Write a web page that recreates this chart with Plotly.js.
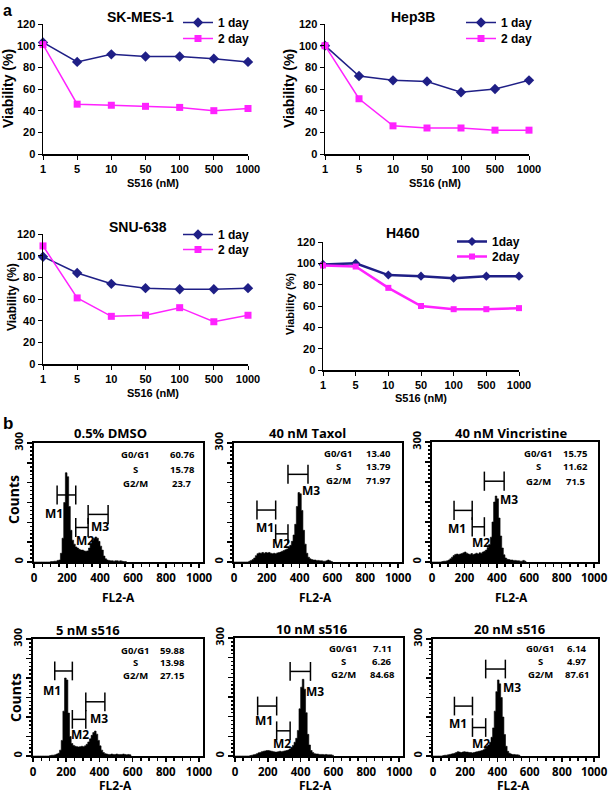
<!DOCTYPE html>
<html><head><meta charset="utf-8">
<script src="https://cdn.plot.ly/plotly-3.0.1.min.js"></script>
<style>html,body{margin:0;padding:0;background:#fff}#chart{width:609px;height:793px}</style>
</head><body><div id="chart"></div>
<script>
// ---------- data: panel a (viability, %) ----------
const doseLabels = ['1','5','10','50','100','500','1000'];
const skmes1Day = [103, 85, 92, 90, 90, 88, 85];
const skmes2Day = [101, 46, 45, 44, 43, 40, 42];
const hep3b1Day = [100, 72, 68, 67, 57, 60, 68];
const hep3b2Day = [100, 51, 26, 24, 24, 22, 22];
const snu1Day   = [99, 84, 74, 70, 69, 69, 70];
const snu2Day   = [109, 61, 44, 45, 52, 39, 45];
const h4601Day  = [99, 100, 89, 88, 86, 88, 88];
const h4602Day  = [98, 97, 77, 60, 57, 57, 58];

// ---------- data: panel b (FL2-A histograms, counts per 10-channel bin from 0) ----------
const dmsoCounts = [0,0,0,0,0,0,0,0,0,0, 1,1,2,2,4,5,22,60,150,225, 215,140,80,55,45,38,35,32,30,30, 28,27,28,35,45,55,60,63,60,52, 40,30,15,8,5,4,3,3,2,3, 3,2,3,2,1,1,0];
const taxolCounts = [0,0,0,0,0,0,0,0,0,2, 4,6,10,16,21,23,22,24,22,24, 23,24,22,21,22,21,23,24,25,27, 29,31,33,36,42,52,68,95,140,175, 172,130,80,45,22,12,8,6,5,5, 4,4,3,3,2,2,3,5,3,1, 0];
const vincCounts = [0,0,0,0,0,0,1,2,2,3, 5,8,12,16,19,20,19,20,21,23, 25,22,20,19,21,19,20,22,20,23, 22,25,27,30,36,44,62,100,150,165, 158,110,65,35,18,10,7,6,5,5, 4,4,3,3,2,2,4,2,0];
const s516n5Counts = [0,0,0,0,0,0,0,0,0,0, 1,2,2,3,5,7,15,40,115,200, 195,110,50,32,27,25,24,23,24,25, 24,26,30,36,44,53,60,64,56,40, 26,15,9,6,5,4,4,5,4,4, 5,4,4,4,5,4,3,4,3,0];
const s516n10Counts = [0,0,0,0,0,0,0,0,0,1, 2,3,4,6,8,9,11,12,13,14, 14,13,12,11,10,10,11,12,11,12, 13,14,15,18,22,27,35,45,65,120, 175,195,170,110,55,28,14,9,6,5, 5,4,4,4,3,4,3,3,3,2, 0];
const s516n20Counts = [0,0,0,0,0,0,1,2,2,3, 4,5,6,7,9,11,10,9,10,11, 10,10,9,9,8,9,10,11,12,13, 14,16,19,23,28,35,48,72,115,165, 195,185,150,100,55,25,12,7,5,4, 4,3,3,2,0];

// gates M1, M2, M3: [start channel, end channel, counts level]
const dmsoGates  = [[140,253,169],[253,328,87],[328,449,120]];
const taxolGates = [[140,254,131],[254,329,71],[329,451,221]];
const vincGates  = [[136,248,129],[248,323,88],[323,445,202]];
const s5Gates    = [[131,237,218],[237,318,94],[318,433,139]];
const s10Gates   = [[138,254,127],[254,336,64],[336,460,215]];
const s20Gates   = [[133,245,128],[245,327,73],[327,449,223]];

const phaseLabels = ['G0/G1','S','G2/M'];
const dmsoStats  = ['60.76','15.78','23.7'];
const taxolStats = ['13.40','13.79','71.97'];
const vincStats  = ['15.75','11.62','71.5'];
const s5Stats    = ['59.88','13.98','27.15'];
const s10Stats   = ['7.11','6.26','84.68'];
const s20Stats   = ['6.14','4.97','87.61'];

// ---------- layout helpers ----------
const W = 609, H = 793;
const px = x => x / W, py = y => 1 - y / H;
const AF = 'Arial, "Liberation Sans", sans-serif';
const HF = '"Open Sans", "Noto Sans", sans-serif';
const NAVY = '#1f1f86', MAG = '#ff22ff';

const traces = [];
const layout = {
  width: W, height: H, margin: {l:0, r:0, t:0, b:0},
  paper_bgcolor: '#fff', plot_bgcolor: 'rgba(0,0,0,0)',
  showlegend: true, annotations: [], shapes: []
};
function ann(text, x, y, size, opts) {
  layout.annotations.push(Object.assign({
    text: text, x: px(x), y: py(y), xref: 'paper', yref: 'paper',
    showarrow: false, xanchor: 'center', yanchor: 'middle',
    font: {family: AF, size: size, color: '#000', weight: 'bold'}
  }, opts || {}));
}

// ---------- panel a ----------
const linePanels = [
  {title:'SK-MES-1', d1:skmes1Day, d2:skmes2Day, n:['1 day','2 day'], xd:[43,248], yd:[24,154],
   tpos:[140,17], xt:[153,183], yt:[8,89], ytSize:14, leg:[178,8,24], lw:1.5, ms:[8,7]},
  {title:'Hep3B', d1:hep3b1Day, d2:hep3b2Day, n:['1 day','2 day'], xd:[325,529], yd:[24,154],
   tpos:[413,17], xt:[435,183], yt:[289,89], ytSize:14, leg:[461,8,24], lw:1.5, ms:[8,7]},
  {title:'SNU-638', d1:snu1Day, d2:snu2Day, n:['1 day','2 day'], xd:[43,248], yd:[234,364],
   tpos:[138,227], xt:[153,393], yt:[12,297], ytSize:12, leg:[178,220,235], lw:1.5, ms:[8,7]},
  {title:'H460', d1:h4601Day, d2:h4602Day, n:['1day','2day'], xd:[323,519], yd:[242,370],
   tpos:[403,233], xt:[421,398], yt:[290,304], ytSize:11, leg:[452,227,242], lw:2.5, ms:[7,6]}
];

linePanels.forEach((p, i) => {
  const k = i + 1, xs = k === 1 ? '' : k;
  const l1 = i === 0 ? 'legend' : 'legend' + (2 * i + 1), l2 = 'legend' + (2 * i + 2);
  layout['xaxis' + xs] = {
    domain: [px(p.xd[0]), px(p.xd[1])], anchor: 'y' + xs, type: 'category', range: [0, 6],
    showline: true, linecolor: '#000', linewidth: 1.5, ticks: 'outside', ticklen: 4, tickcolor: '#000',
    tickfont: {family: AF, size: 11, color: '#000', weight: 'bold'},
    showgrid: false, zeroline: false, fixedrange: true
  };
  layout['yaxis' + xs] = {
    domain: [py(p.yd[1]), py(p.yd[0])], anchor: 'x' + xs, range: [0, 120], dtick: 20,
    showline: true, linecolor: '#000', linewidth: 1.5, ticks: 'outside', ticklen: 4, tickcolor: '#000',
    tickfont: {family: AF, size: 11, color: '#000', weight: 'bold'},
    showgrid: false, zeroline: false, fixedrange: true
  };
  traces.push({
    x: doseLabels, y: p.d1, name: p.n[0], type: 'scatter', mode: 'lines+markers',
    xaxis: 'x' + xs, yaxis: 'y' + xs, legend: l1, cliponaxis: false,
    line: {color: NAVY, width: p.lw}, marker: {symbol: 'diamond', size: p.ms[0], color: NAVY}
  });
  traces.push({
    x: doseLabels, y: p.d2, name: p.n[1], type: 'scatter', mode: 'lines+markers',
    xaxis: 'x' + xs, yaxis: 'y' + xs, legend: l2, cliponaxis: false,
    line: {color: MAG, width: p.lw}, marker: {symbol: 'square', size: p.ms[1], color: MAG}
  });
  [[l1, p.leg[1]], [l2, p.leg[2]]].forEach(([ln, top]) => {
    layout[ln] = {
      x: px(p.leg[0]), y: py(top), xanchor: 'left', yanchor: 'top',
      bgcolor: 'rgba(0,0,0,0)', borderwidth: 0,
      font: {family: AF, size: 12, color: '#000', weight: 'bold'}
    };
  });
  ann(p.title, p.tpos[0], p.tpos[1], 14);
  ann('S516 (nM)', p.xt[0], p.xt[1], 11);
  ann('Viability (%)', p.yt[0], p.yt[1], p.ytSize, {textangle: -90});
});

ann('a', 7, 10, 16);
ann('b', 8, 423, 17);

// ---------- panel b ----------
const histPanels = [
  {title:'0.5% DMSO', c:dmsoCounts, g:dmsoGates, s:dmsoStats, xd:[34,203], yd:[443,562],
   tpos:[110,433], fl:[118,597], counts:[13,500], sx:[135,182], sy:[454,469,483],
   ml:[[119,123],[308,54],[399,89]]},
  {title:'40 nM Taxol', c:taxolCounts, g:taxolGates, s:taxolStats, xd:[234,402], yd:[443,562],
   tpos:[307,433], fl:[315,597], counts:null, sx:[338,378], sy:[453,466,480],
   ml:[[187,87],[289,46],[472,181]]},
  {title:'40 nM Vincristine', c:vincCounts, g:vincGates, s:vincStats, xd:[432,598], yd:[442,562],
   tpos:[511,433], fl:[511,597], counts:null, sx:[538,575], sy:[453,467,481],
   ml:[[156,84],[303,50],[476,156]]},
  {title:'5 nM s516', c:s516n5Counts, g:s5Gates, s:s5Stats, xd:[33,203], yd:[639,756],
   tpos:[88,630], fl:[115,785], counts:[15,698], sx:[135,172], sy:[650,662,675],
   ml:[[117,167],[282,54],[398,97]]},
  {title:'10 nM s516', c:s516n10Counts, g:s10Gates, s:s10Stats, xd:[235,403], yd:[638,756],
   tpos:[312,629], fl:[315,785], counts:null, sx:[343,382], sy:[648,661,674],
   ml:[[179,90],[285,32],[485,164]]},
  {title:'20 nM s516', c:s516n20Counts, g:s20Gates, s:s20Stats, xd:[433,598], yd:[639,756],
   tpos:[510,629], fl:[513,785], counts:null, sx:[540,577], sy:[648,661,674],
   ml:[[153,83],[296,33],[490,176]]}
];

histPanels.forEach((p, i) => {
  const k = i + 5, xr = 'x' + k, yr = 'y' + k;
  layout['xaxis' + k] = {
    domain: [px(p.xd[0]), px(p.xd[1])], anchor: yr, range: [0, 1024],
    tickmode: 'array', tickvals: [0,200,400,600,800,1000], ticktext: ['0','200','400','600','800','1000'],
    ticks: 'outside', ticklen: 4, tickwidth: 1.5, tickcolor: '#000', ticklabeloverflow: 'allow',
    minor: {dtick: 50, tick0: 0, ticks: 'outside', ticklen: 3, tickcolor: '#000', showgrid: false},
    showline: true, mirror: true, linecolor: '#000', linewidth: 2,
    tickfont: {family: HF, size: 11.5, color: '#000', weight: 'bold'},
    showgrid: false, zeroline: false, fixedrange: true
  };
  layout['yaxis' + k] = {
    domain: [py(p.yd[1]), py(p.yd[0])], anchor: xr, range: [0, 300],
    tickmode: 'array', tickvals: [0,50,100,150,200,250,300], ticktext: ['0','','','','','','300'],
    tickangle: -90, ticks: 'outside', ticklen: 5, tickwidth: 1.5, tickcolor: '#000', ticklabeloverflow: 'allow',
    minor: {dtick: 10, tick0: 0, ticks: 'outside', ticklen: 2, tickcolor: '#000', showgrid: false},
    showline: true, mirror: true, linecolor: '#000', linewidth: 2,
    tickfont: {family: HF, size: 11, color: '#000', weight: 'bold'},
    showgrid: false, zeroline: false, fixedrange: true
  };
  traces.push({
    y: p.c, x0: 0, dx: 10, type: 'scatter', mode: 'lines', xaxis: xr, yaxis: yr,
    line: {shape: 'hv', color: '#000', width: 0.6}, fill: 'tozeroy', fillcolor: '#000',
    showlegend: false, hoverinfo: 'skip'
  });
  const gh = 24;
  p.g.forEach((g, j) => {
    const ln = {type: 'line', xref: xr, yref: yr, line: {color: '#000', width: 1.5}};
    layout.shapes.push(Object.assign({}, ln, {x0: g[0], x1: g[1], y0: g[2], y1: g[2]}));
    layout.shapes.push(Object.assign({}, ln, {x0: g[0], x1: g[0], y0: g[2] - gh, y1: g[2] + gh}));
    layout.shapes.push(Object.assign({}, ln, {x0: g[1], x1: g[1], y0: g[2] - gh, y1: g[2] + gh}));
    layout.annotations.push({
      text: 'M' + (j + 1), x: p.ml[j][0], y: p.ml[j][1], xref: xr, yref: yr, showarrow: false,
      xanchor: 'center', yanchor: 'middle', font: {family: HF, size: 12, color: '#000', weight: 'bold'}
    });
  });
  const sf = {family: HF, size: 9.5, color: '#000', weight: 'bold'};
  phaseLabels.forEach((lab, j) => {
    ann(lab, p.sx[0], p.sy[j], 9.5, {font: sf, borderpad: 0});
    ann(p.s[j], p.sx[1], p.sy[j], 9.5, {font: sf, borderpad: 0});
  });
  ann(p.title, p.tpos[0], p.tpos[1], 13, {font: {family: HF, size: 13, color: '#000', weight: 'bold'}});
  ann('FL2-A', p.fl[0], p.fl[1], 12, {font: {family: HF, size: 12, color: '#000', weight: 'bold'}, borderpad: 0});
  if (p.counts) ann('Counts', p.counts[0], p.counts[1], 14,
    {textangle: -90, font: {family: HF, size: 14, color: '#000', weight: 'bold'}});
});

Plotly.newPlot('chart', traces, layout, {staticPlot: true, displayModeBar: false});
</script>
</body></html>
